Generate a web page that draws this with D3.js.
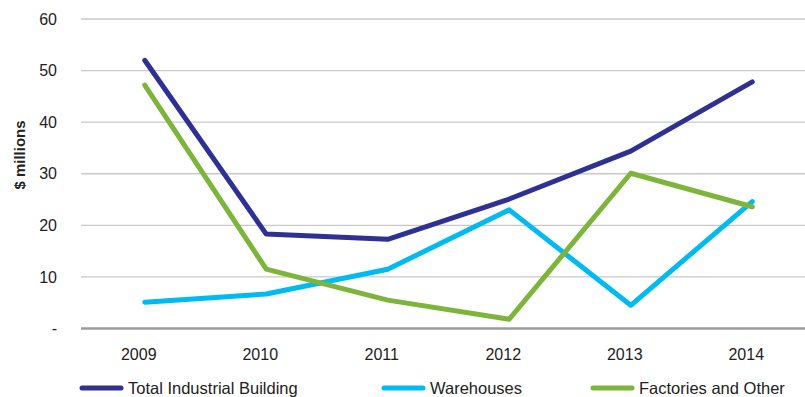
<!DOCTYPE html>
<html>
<head>
<meta charset="utf-8">
<script src="https://cdn.jsdelivr.net/npm/d3@7"></script>
<style>
  html, body { margin: 0; padding: 0; background: #fff; }
  svg { display: block; }
  text { font-family: "Liberation Sans", Arial, Helvetica, sans-serif; fill: #222; }
</style>
</head>
<body>
<svg id="chart" width="805" height="397"></svg>
<script>
// Industrial building approvals, $ millions
const years = ["2009", "2010", "2011", "2012", "2013", "2014"];
const totalIndustrial = [52.0, 18.3, 17.3, 25.1, 34.4, 47.8];
const warehouses = [5.1, 6.7, 11.5, 23.0, 4.5, 24.6];
const factoriesOther = [47.2, 11.5, 5.5, 1.8, 30.1, 23.6];
const yTicks = [0, 10, 20, 30, 40, 50, 60];
const seriesNames = ["Total Industrial Building", "Warehouses", "Factories and Other"];
const seriesColors = ["#2e3192", "#00baf2", "#7db53b"];

const series = [totalIndustrial, warehouses, factoriesOther].map((values, i) => ({
  name: seriesNames[i],
  color: seriesColors[i],
  values: values.map((v, j) => ({ year: years[j], value: v }))
}));

const svg = d3.select("#chart");

const x = d3.scaleBand().domain(years).range([84, 813]);
const y = d3.scaleLinear().domain([0, 60]).range([328.5, 19]);
const cx = d => x(d) + x.bandwidth() / 2;

// horizontal gridlines
svg.append("g")
  .selectAll("line")
  .data(yTicks.filter(t => t > 0))
  .join("line")
  .attr("x1", 81).attr("x2", 805)
  .attr("y1", d => y(d)).attr("y2", d => y(d))
  .attr("stroke", "#c9c9c9")
  .attr("stroke-width", 1.4);

// baseline
svg.append("line")
  .attr("x1", 81).attr("x2", 805)
  .attr("y1", y(0)).attr("y2", y(0))
  .attr("stroke", "#9b9b9b")
  .attr("stroke-width", 2.5);

// y axis labels
const yAxis = d3.axisLeft(y)
  .tickValues(yTicks)
  .tickSize(0)
  .tickPadding(0)
  .tickFormat(d => d === 0 ? "-" : d);
svg.append("g")
  .attr("transform", "translate(57,0)")
  .call(yAxis)
  .call(g => g.select(".domain").remove())
  .call(g => g.selectAll("text")
    .attr("font-size", 16)
    .attr("fill", "#222")
    .attr("font-family", "Liberation Sans, Arial, sans-serif"));

// y axis title
svg.append("text")
  .attr("transform", "translate(25,155) rotate(-90)")
  .attr("text-anchor", "middle")
  .attr("font-size", 15)
  .attr("font-weight", "bold")
  .text("$ millions");

// x axis labels
const xAxis = d3.axisBottom(x).tickSize(0).tickPadding(0);
svg.append("g")
  .attr("transform", "translate(-6,349)")
  .call(xAxis)
  .call(g => g.select(".domain").remove())
  .call(g => g.selectAll("text")
    .attr("font-size", 16)
    .attr("fill", "#222")
    .attr("font-family", "Liberation Sans, Arial, sans-serif"));

// series lines
const line = d3.line()
  .x(d => cx(d.year))
  .y(d => y(d.value));

svg.append("g")
  .selectAll("path")
  .data(series)
  .join("path")
  .attr("d", d => line(d.values))
  .attr("fill", "none")
  .attr("stroke", d => d.color)
  .attr("stroke-width", 5)
  .attr("stroke-linejoin", "round")
  .attr("stroke-linecap", "round");

// legend
const legendX = [82, 384, 593];
const legend = svg.append("g")
  .selectAll("g")
  .data(series)
  .join("g")
  .attr("transform", (d, i) => `translate(${legendX[i]},388)`);
legend.append("line")
  .attr("x1", 0).attr("x2", 39)
  .attr("y1", 0).attr("y2", 0)
  .attr("stroke", d => d.color)
  .attr("stroke-width", 5)
  .attr("stroke-linecap", "round");
legend.append("text")
  .attr("x", 46)
  .attr("y", 0)
  .attr("dy", "0.35em")
  .attr("font-size", 16.5)
  .text(d => d.name);
</script>
</body>
</html>
